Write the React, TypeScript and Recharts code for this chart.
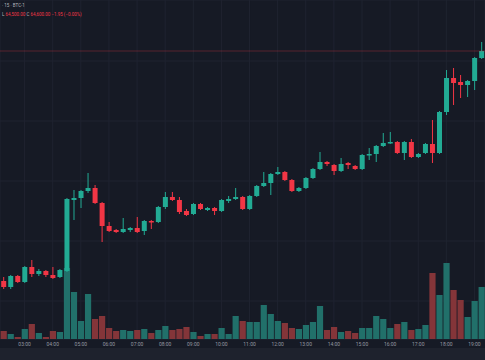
import React from 'react';
import { ComposedChart, Bar, XAxis, YAxis, CartesianGrid, ReferenceLine } from 'recharts';

// 15 minute candles, 02:15 -> 19:15
const times: string[] = Array.from({ length: 69 }, (_, i) => {
  const m = 2 * 60 + 15 + 15 * i;
  return `${String(Math.floor(m / 60)).padStart(2, '0')}:${String(m % 60).padStart(2, '0')}`;
});

const hourTicks = [
  '03:00', '04:00', '05:00', '06:00', '07:00', '08:00', '09:00', '10:00', '11:00',
  '12:00', '13:00', '14:00', '15:00', '16:00', '17:00', '18:00', '19:00',
];

const opens = [
  62300, 62240, 62350, 62290, 62440, 62370, 62400, 62360, 62340, 62400, 63110, 63130, 63200, 63230, 63080, 62850,
  62810, 62790, 62810, 62830, 62800, 62900, 62890, 63040, 63140, 63110, 63000, 62970, 63070, 63010, 63030, 63000,
  63100, 63120, 63140, 63020, 63150, 63250, 63280, 63370, 63390, 63310, 63200, 63230, 63330, 63420, 63490, 63460,
  63400, 63480, 63450, 63420, 63560, 63570, 63650, 63680, 63690, 63580, 63690, 63540, 63580, 63670, 63580, 63990,
  64330, 64290, 64260, 64300, 64530,
];
const highs = [
  62340, 62360, 62360, 62450, 62510, 62420, 62410, 62440, 62420, 63130, 63210, 63210, 63380, 63260, 63090, 62890,
  62820, 62930, 62840, 62940, 62910, 62910, 63050, 63190, 63190, 63140, 63020, 63080, 63080, 63040, 63040, 63120,
  63150, 63230, 63150, 63160, 63260, 63390, 63380, 63440, 63400, 63320, 63240, 63340, 63430, 63590, 63500, 63470,
  63530, 63490, 63460, 63570, 63630, 63660, 63780, 63790, 63700, 63700, 63720, 63580, 63680, 63910, 64000, 64410,
  64430, 64360, 64310, 64540, 64690,
];
const lows = [
  62220, 62220, 62280, 62280, 62340, 62350, 62340, 62320, 62330, 62390, 62910, 63030, 63180, 63070, 62690, 62790,
  62780, 62780, 62790, 62780, 62760, 62820, 62880, 63020, 63100, 62970, 62950, 62960, 63010, 63000, 62960, 62990,
  63080, 63110, 63010, 63010, 63140, 63240, 63160, 63360, 63300, 63190, 63190, 63220, 63320, 63410, 63450, 63360,
  63390, 63420, 63410, 63410, 63510, 63490, 63640, 63670, 63570, 63510, 63530, 63530, 63570, 63480, 63570, 63960,
  64060, 64130, 64140, 64210, 64520,
];
const closes = [
  62240, 62350, 62290, 62440, 62370, 62400, 62360, 62330, 62410, 63120, 63130, 63200, 63230, 63080, 62850, 62800,
  62790, 62820, 62830, 62790, 62900, 62890, 63040, 63140, 63110, 62990, 62960, 63070, 63020, 63030, 63000, 63110,
  63120, 63140, 63020, 63150, 63250, 63280, 63370, 63390, 63310, 63200, 63230, 63330, 63420, 63490, 63470, 63400,
  63470, 63460, 63420, 63560, 63570, 63650, 63680, 63690, 63580, 63690, 63540, 63570, 63670, 63580, 63990, 64330,
  64280, 64260, 64300, 64530, 64600,
];
const volumes = [
  80, 50, 20, 100, 150, 60, 20, 80, 70, 710, 470, 180, 450, 200, 230, 110,
  80, 90, 80, 90, 100, 60, 90, 130, 90, 100, 120, 70, 30, 50, 50, 110,
  50, 230, 180, 170, 170, 340, 250, 180, 160, 110, 100, 140, 170, 330, 90, 120,
  70, 80, 60, 110, 110, 230, 200, 110, 150, 170, 90, 100, 140, 660, 440, 760,
  490, 390, 220, 380, 520,
];

const lastPrice = 64600;
const gridPrices = [62100, 62700, 63300, 63900, 64500];

const BG = '#161a25';
const UP = '#22ab94';
const DOWN = '#f23645';
const VOL_UP = '#21706a';
const VOL_DOWN = '#843539';

const data = times.map((time, i) => ({
  time,
  open: opens[i],
  high: highs[i],
  low: lows[i],
  close: closes[i],
  range: [lows[i], highs[i]],
  volume: volumes[i],
}));

const Candle = (props: any) => {
  const { x, y, width, height, payload } = props;
  if (!payload) return null;
  const { open, close, high, low } = payload;
  const color = close >= open ? UP : DOWN;
  const top = Math.min(y, y + height);
  const h = Math.abs(height);
  const span = high - low || 1;
  const toY = (v: number) => top + ((high - v) / span) * h;
  const cx = x + width / 2;
  const bodyTop = toY(Math.max(open, close));
  const bodyBot = toY(Math.min(open, close));
  return (
    <g>
      <line x1={cx} x2={cx} y1={top} y2={top + h} stroke={color} strokeWidth={1} />
      <rect x={cx - 2.5} y={bodyTop} width={5} height={Math.max(1.5, bodyBot - bodyTop)} fill={color} />
    </g>
  );
};

const VolumeBar = (props: any) => {
  const { x, y, width, height, payload } = props;
  if (!payload) return null;
  const color = payload.close >= payload.open ? VOL_UP : VOL_DOWN;
  const cx = x + width / 2;
  return <rect x={cx - 3.1} y={Math.min(y, y + height)} width={6.2} height={Math.abs(height)} fill={color} />;
};

export default function App() {
  return (
    <div style={{ position: 'absolute', left: 0, top: 0, width: 485, height: 360, background: '#1e222d' }}>
      <div style={{ position: 'absolute', left: 0, top: 0, width: 485, height: 348, background: BG }} />
      <div style={{ position: 'absolute', left: 0, top: 0 }}>
        <ComposedChart width={485} height={360} data={data} margin={{ top: 0, right: 0, bottom: 0, left: 0 }}>
          <CartesianGrid
            xAxisId="price"
            yAxisId="price"
            stroke="#1f2330"
            strokeWidth={1}
          />
          <XAxis
            xAxisId="price"
            dataKey="time"
            ticks={hourTicks}
            interval={0}
            height={21}
            tickLine={false}
            axisLine={false}
            tickSize={0}
            tickMargin={3}
            tick={{ fontSize: 5, fill: '#9598a1', fontFamily: 'Roboto, sans-serif' }}
          />
          <XAxis xAxisId="vol" dataKey="time" hide />
          <YAxis yAxisId="price" domain={[61720, 65110]} ticks={gridPrices} hide />
          <YAxis yAxisId="vol" domain={[0, 3390]} hide />
          <ReferenceLine
            xAxisId="price"
            yAxisId="price"
            y={lastPrice}
            stroke={DOWN}
            strokeOpacity={0.3}
            strokeWidth={1}
          />
          <Bar
            xAxisId="vol"
            yAxisId="vol"
            dataKey="volume"
            shape={<VolumeBar />}
            isAnimationActive={false}
          />
          <Bar
            xAxisId="price"
            yAxisId="price"
            dataKey="range"
            shape={<Candle />}
            isAnimationActive={false}
          />
        </ComposedChart>
      </div>
      <svg width={485} height={24} style={{ position: 'absolute', left: 0, top: 0 }}>
        <text x={2} y={7} fontSize={4.5} fill="#b2b5be" fontFamily="Roboto, sans-serif">
          · 15 · BTC-1
        </text>
        <text x={2} y={16} fontSize={4.5} fontFamily="Roboto, sans-serif">
          <tspan fill="#b2b5be">L </tspan>
          <tspan fill={DOWN}>64,500.00 </tspan>
          <tspan fill="#b2b5be">C </tspan>
          <tspan fill={DOWN}>64,600.00 −1.95 (−0.00%)</tspan>
        </text>
      </svg>
    </div>
  );
}
